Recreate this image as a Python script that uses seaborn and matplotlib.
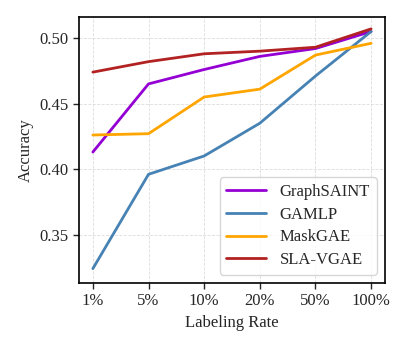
import seaborn as sns
import matplotlib.pyplot as plt
import pandas as pd

# Data
rates = ['1%', '5%', '10%', '20%', '50%', '100%']
graphsaint = [0.413, 0.465, 0.476, 0.486, 0.492, 0.505]
gamlp = [0.324, 0.396, 0.410, 0.435, 0.471, 0.505]
maskgae = [0.426, 0.427, 0.455, 0.461, 0.487, 0.496]
sla_vgae = [0.474, 0.482, 0.488, 0.490, 0.493, 0.507]

methods = ['GraphSAINT', 'GAMLP', 'MaskGAE', 'SLA-VGAE']
colors = ['#9400D3', '#4682B4', '#FFA500', '#B22222']

df = pd.DataFrame({'Labeling Rate': rates * 4,
                   'Accuracy': graphsaint + gamlp + maskgae + sla_vgae,
                   'Method': [m for m in methods for _ in rates]})

sns.set_style("white")
plt.rcParams['font.family'] = ['Liberation Serif', 'DejaVu Serif']

fig = plt.figure(figsize=(4.07, 3.49), dpi=100)
ax = fig.add_axes([0.194, 0.189, 0.752, 0.762])

sns.lineplot(data=df, x='Labeling Rate', y='Accuracy', hue='Method',
             palette=colors, linewidth=2, sort=False, ax=ax)

ax.set_ylim(0.313, 0.516)
ax.set_xlim(-0.25, 5.25)
ax.set_yticks([0.35, 0.40, 0.45, 0.50])
ax.grid(True, linestyle='--', linewidth=0.6, color='#dddddd')
ax.tick_params(axis='both', labelsize=12, direction='out', length=4, width=1,
               bottom=True, left=True)
for s in ax.spines.values():
    s.set_linewidth(1.2)
    s.set_color('black')
ax.set_xlabel('Labeling Rate', fontsize=12)
ax.set_ylabel('Accuracy', fontsize=12)
leg = ax.legend(loc='lower right', fontsize=12, frameon=True, fancybox=True,
                handlelength=2.4, labelspacing=0.4)
leg.get_frame().set_edgecolor('#cccccc')

plt.savefig('out.png', dpi=100)
